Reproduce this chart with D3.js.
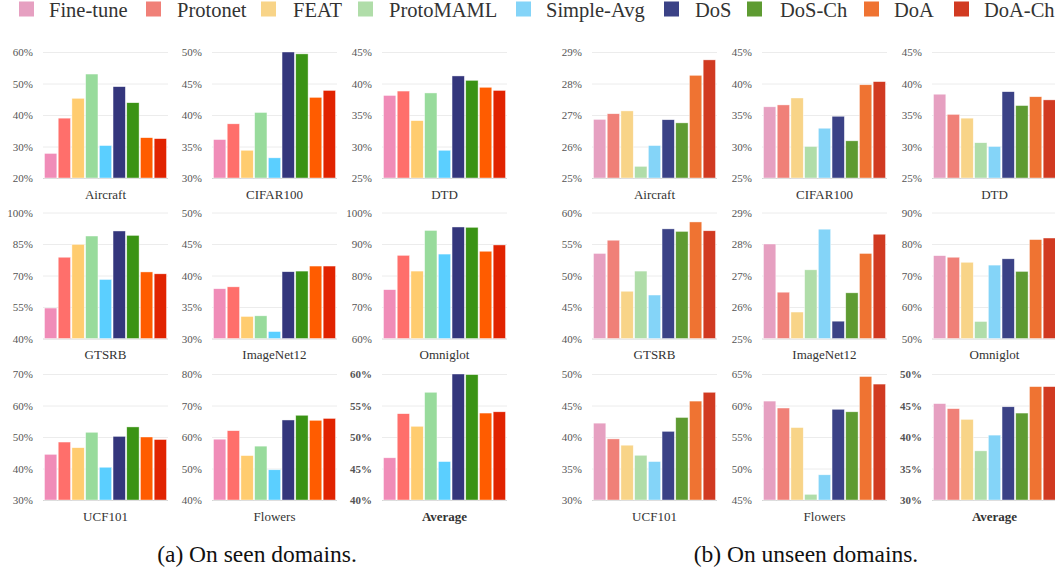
<!DOCTYPE html>
<html>
<head>
<meta charset="utf-8">
<script src="https://cdn.jsdelivr.net/npm/d3@7"></script>
<style>
  html, body { margin: 0; padding: 0; background: #fff; }
  svg { display: block; font-family: "Liberation Serif", "DejaVu Serif", serif; }
</style>
</head>
<body>
<script>
const methods = ["Fine-tune", "Protonet", "FEAT", "ProtoMAML", "Simple-Avg", "DoS", "DoS-Ch", "DoA", "DoA-Ch"];
const legendColors = ["#e6a0c1", "#f08078", "#f8d488", "#b0dda9", "#84d4f8", "#3b4286", "#5e9b32", "#ef7332", "#d13a21"];
const seenColors = ["#f08cb8", "#ff6f6b", "#ffcc6f", "#98db9c", "#5bcfff", "#34367c", "#3a9314", "#ff5c00", "#e12300"];

const datasets = ["Aircraft", "CIFAR100", "DTD", "GTSRB", "ImageNet12", "Omniglot", "UCF101", "Flowers", "Average"];

// y ranges of every small panel, [min, max] in %
const seenDomains = [[20, 60], [30, 50], [25, 45], [40, 100], [30, 50], [60, 100], [30, 70], [40, 80], [40, 60]];
const unseenDomains = [[25, 29], [25, 45], [25, 45], [40, 60], [25, 29], [50, 90], [30, 50], [45, 65], [30, 50]];

const seenValues = [
  [27.8, 39.0, 45.3, 53.0, 30.3, 49.0, 43.9, 32.8, 32.5],
  [36.1, 38.6, 34.4, 40.4, 33.2, 50.0, 49.7, 42.8, 43.9],
  [38.1, 38.8, 34.1, 38.5, 29.4, 41.2, 40.5, 39.4, 38.9],
  [54.5, 78.7, 84.8, 88.8, 68.1, 91.2, 89.1, 71.7, 70.8],
  [37.9, 38.2, 33.5, 33.6, 31.1, 40.6, 40.7, 41.5, 41.5],
  [75.5, 86.4, 81.4, 94.3, 86.8, 95.4, 95.3, 87.7, 89.7],
  [44.5, 48.4, 46.6, 51.5, 40.4, 50.2, 53.2, 50.0, 49.2],
  [59.3, 62.0, 54.1, 57.1, 49.6, 65.4, 66.9, 65.3, 65.9],
  [46.7, 53.7, 51.7, 57.1, 46.1, 60.0, 59.9, 53.8, 54.0]
];

const unseenValues = [
  [26.86, 27.04, 27.13, 25.37, 26.03, 26.85, 26.75, 28.26, 28.75],
  [36.3, 36.6, 37.7, 30.0, 32.9, 34.8, 30.9, 39.8, 40.3],
  [38.3, 35.1, 34.5, 30.6, 30.0, 38.7, 36.5, 37.9, 37.4],
  [53.5, 55.6, 47.5, 50.7, 46.9, 57.4, 57.0, 58.5, 57.1],
  [28.0, 26.47, 25.84, 27.18, 28.47, 25.55, 26.45, 27.7, 28.31],
  [76.3, 75.8, 74.2, 55.4, 73.3, 75.3, 71.3, 81.4, 81.9],
  [42.2, 39.7, 38.7, 37.1, 36.1, 40.9, 43.1, 45.7, 47.1],
  [60.7, 59.6, 56.5, 45.9, 49.0, 59.4, 59.0, 64.6, 63.4],
  [45.3, 44.5, 42.8, 37.8, 40.3, 44.8, 43.8, 48.0, 48.0]
];

const captions = ["(a) On seen domains.", "(b) On unseen domains."];

const W = 1055, H = 571;
const PW = 125, PH = 126;
const colLefts = [[43, 212, 382], [592, 762, 932]];
const rowTops = [52, 212.5, 374];

const svg = d3.select("body").append("svg")
  .attr("width", W)
  .attr("height", H);

// legend
const legendSquares = [19, 146, 261, 358, 516, 664, 747, 864, 954];
const legendTexts = [49, 177, 293, 389, 546, 695, 780, 894, 984];
const legend = svg.append("g");
methods.forEach((m, i) => {
  legend.append("rect")
    .attr("x", legendSquares[i])
    .attr("y", 1.5)
    .attr("width", 15)
    .attr("height", 15)
    .attr("fill", legendColors[i]);
  legend.append("text")
    .attr("x", legendTexts[i])
    .attr("y", 16.5)
    .attr("font-size", 20.5)
    .attr("fill", "#333")
    .text(m);
});

function drawPanel(x0, y0, name, domain, values, colors) {
  const bold = name === "Average";
  const g = svg.append("g");

  const x = d3.scaleBand()
    .domain(methods)
    .range([x0 + 1.5, x0 + PW - 1.5])
    .paddingInner(0.1);

  const y = d3.scaleLinear()
    .domain(domain)
    .range([y0 + PH, y0]);

  const ticks = d3.range(5).map((i) => domain[0] + (i * (domain[1] - domain[0])) / 4);

  const axis = g.append("g")
    .attr("transform", `translate(${x0},0)`)
    .call(
      d3.axisLeft(y)
        .tickValues(ticks)
        .tickSize(-PW)
        .tickPadding(10)
        .tickFormat((d) => `${Math.round(d)}%`)
    );
  axis.attr("font-family", null);
  axis.select(".domain").remove();
  axis.selectAll("line")
    .attr("stroke", (d, i) => (i === 0 ? "#d6d6d6" : "#ececec"))
    .attr("stroke-width", 1);
  axis.selectAll("text")
    .style("font-family", "'Liberation Serif', serif")
    .attr("font-size", 11)
    .attr("font-weight", bold ? "bold" : "normal")
    .attr("fill", "#555");

  g.append("g")
    .selectAll("rect")
    .data(values)
    .join("rect")
    .attr("x", (d, i) => x(methods[i]))
    .attr("y", (d) => y(d))
    .attr("width", x.bandwidth())
    .attr("height", (d) => y(domain[0]) - y(d))
    .attr("fill", (d, i) => colors[i])
    .attr("stroke", "rgba(255,255,255,0.7)")
    .attr("stroke-width", 0.6);

  g.append("text")
    .attr("x", x0 + PW / 2)
    .attr("y", y0 + PH + 20.5)
    .attr("text-anchor", "middle")
    .attr("font-size", 13)
    .attr("font-weight", bold ? "bold" : "normal")
    .attr("fill", "#333")
    .text(name);
}

datasets.forEach((name, k) => {
  const r = Math.floor(k / 3);
  const c = k % 3;
  drawPanel(colLefts[0][c], rowTops[r], name, seenDomains[k], seenValues[k], seenColors);
  drawPanel(colLefts[1][c], rowTops[r], name, unseenDomains[k], unseenValues[k], legendColors);
});

// captions
const captionX = [257, 806];
captions.forEach((t, i) => {
  svg.append("text")
    .attr("x", captionX[i])
    .attr("y", 562)
    .attr("text-anchor", "middle")
    .attr("font-size", 23.5)
    .attr("fill", "#111")
    .text(t);
});
</script>
</body>
</html>
